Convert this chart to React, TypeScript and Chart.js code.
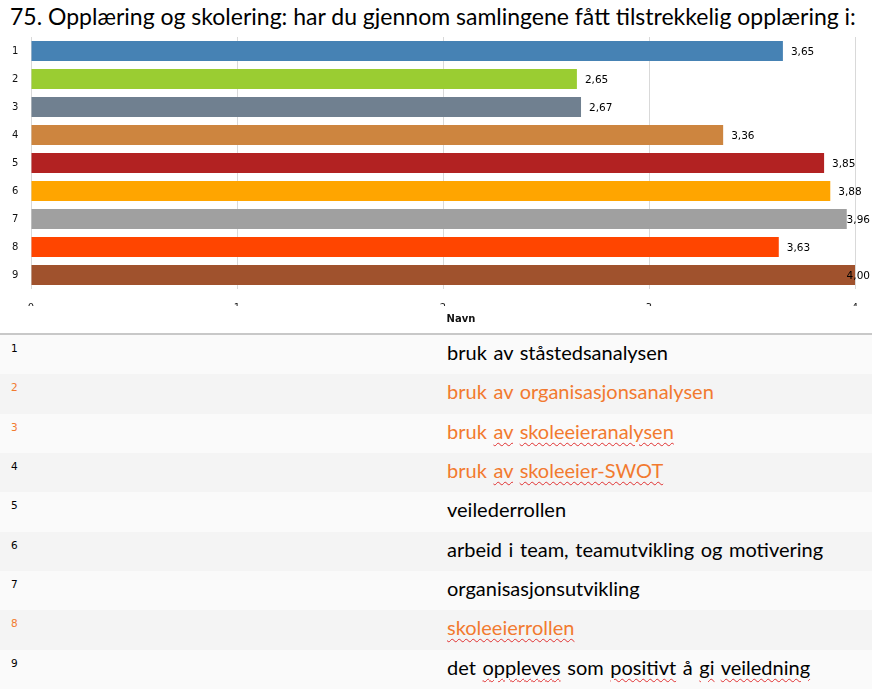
import React, { useEffect, useRef } from "react";
import { Chart, registerables } from "chart.js";

Chart.register(...registerables);

const titleText =
  "75. Opplæring og skolering: har du gjennom samlingene fått tilstrekkelig opplæring i:";
const categories = ["1", "2", "3", "4", "5", "6", "7", "8", "9"];
const values = [3.65, 2.65, 2.67, 3.36, 3.85, 3.88, 3.96, 3.63, 4.0];
const barColors = [
  "#4682b4",
  "#9acd32",
  "#708090",
  "#cd853f",
  "#b22222",
  "#ffa500",
  "#a0a0a0",
  "#ff4500",
  "#a0522d",
];
const xMin = 0;
const xMax = 4;
const axisTitle = "Navn";
const rowTexts = [
  "bruk av ståstedsanalysen",
  "bruk av organisasjonsanalysen",
  "bruk av skoleeieranalysen",
  "bruk av skoleeier-SWOT",
  "veilederrollen",
  "arbeid i team, teamutvikling og motivering",
  "organisasjonsutvikling",
  "skoleeierrollen",
  "det oppleves som positivt å gi veiledning",
];
const textOrange = [false, true, true, true, false, false, false, true, false];
const numberOrange = [false, true, true, false, false, false, false, true, false];
const misspelled = [
  [],
  [],
  ["av", "skoleeieranalysen"],
  ["av", "skoleeier-SWOT"],
  [],
  [],
  [],
  ["skoleeierrollen"],
  ["oppleves", "positivt", "gi", "veiledning"],
];

const ORANGE = "#f27a2f";

const formatValue = (v: number) => v.toFixed(2).replace(".", ",");

const valueLabels = {
  id: "valueLabels",
  afterDatasetsDraw(chart: any) {
    const ctx = chart.ctx;
    const meta = chart.getDatasetMeta(0);
    ctx.save();
    ctx.font = '10.5px "DejaVu Sans"';
    ctx.fillStyle = "#000";
    ctx.textBaseline = "middle";
    ctx.textAlign = "left";
    meta.data.forEach((bar: any, i: number) => {
      const txt = formatValue(values[i]);
      const w = ctx.measureText(txt).width;
      const x = Math.min(bar.x + 8, chart.chartArea.right + 15 - w);
      ctx.fillText(txt, x, bar.y + 1);
    });
    ctx.restore();
  },
};

const clipTicksAndTitle = {
  id: "clipTicksAndTitle",
  afterDraw(chart: any) {
    const ctx = chart.ctx;
    const area = chart.chartArea;
    ctx.save();
    ctx.fillStyle = "#ffffff";
    ctx.fillRect(0, 306, chart.width, 7);
    ctx.fillStyle = "#111";
    ctx.font = 'bold 10px "DejaVu Sans"';
    ctx.textAlign = "center";
    ctx.textBaseline = "middle";
    ctx.fillText(axisTitle, (area.left + area.right) / 2 + 18, 319);
    ctx.restore();
  },
};

function BarChart() {
  const ref = useRef<HTMLCanvasElement | null>(null);
  useEffect(() => {
    if (!ref.current) return;
    const chart = new Chart(ref.current, {
      type: "bar",
      data: {
        labels: categories,
        datasets: [
          {
            data: values,
            backgroundColor: barColors,
            borderWidth: 0,
            barPercentage: 0.72,
            categoryPercentage: 1,
          },
        ],
      },
      options: {
        indexAxis: "y",
        animation: false,
        responsive: false,
        maintainAspectRatio: false,
        layout: { padding: { top: 37, left: 12, right: 32, bottom: 0 } },
        plugins: {
          legend: { display: false },
          tooltip: { enabled: false },
          title: { display: false },
        },
        scales: {
          x: {
            min: xMin,
            max: xMax,
            afterFit(scale: any) {
              scale.height = 44;
            },
            ticks: {
              stepSize: 1,
              padding: 13,
              color: "#222",
              font: { family: "DejaVu Sans", size: 10 },
            },
            grid: { color: "#d9d9d9", drawTicks: false },
            border: { display: false },
          },
          y: {
            afterFit(scale: any) {
              scale.width = 19;
            },
            ticks: {
              crossAlign: "far",
              color: "#111",
              font: { family: "DejaVu Sans", size: 10 },
            },
            grid: { display: false },
            border: { display: false },
          },
        },
      } as any,
      plugins: [valueLabels, clipTicksAndTitle],
    });
    return () => chart.destroy();
  }, []);
  return (
    <canvas
      ref={ref}
      width={887}
      height={333}
      style={{ position: "absolute", left: 0, top: 0, width: 887, height: 333 }}
    />
  );
}

function RowText({ text, bad }: { text: string; bad: string[] }) {
  const words = text.split(" ");
  return (
    <>
      {words.map((w, i) => (
        <React.Fragment key={i}>
          {i > 0 ? " " : ""}
          <span
            style={
              bad.includes(w)
                ? {
                    textDecorationLine: "underline",
                    textDecorationStyle: "wavy",
                    textDecorationColor: "#e03030",
                    textDecorationThickness: "1px",
                    textUnderlineOffset: "3px",
                  }
                : undefined
            }
          >
            {w}
          </span>
        </React.Fragment>
      ))}
    </>
  );
}

export default function App() {
  const tableTop = 335;
  const rowH = 39.33;
  return (
    <div
      style={{
        position: "absolute",
        left: 0,
        top: 0,
        width: 887,
        height: 691,
        overflow: "hidden",
        background: "#fff",
      }}
    >
      <div
        style={{
          position: "absolute",
          left: 10,
          top: 2,
          fontFamily: "Lato",
          fontSize: 23,
          lineHeight: "28px",
          color: "#000",
          whiteSpace: "nowrap",
        }}
      >
        {titleText}
      </div>
      <BarChart />
      <div
        style={{
          position: "absolute",
          left: 0,
          top: 333,
          width: 872,
          height: 2,
          background: "#c8c8c8",
        }}
      />
      {rowTexts.map((t, i) => (
        <div
          key={i}
          style={{
            position: "absolute",
            left: 0,
            top: tableTop + i * rowH,
            width: 872,
            height: rowH,
            background: i % 2 === 0 ? "#fafafa" : "#f4f4f4",
          }}
        >
          <div
            style={{
              position: "absolute",
              left: 11,
              top: 7,
              fontFamily: "DejaVu Sans",
              fontSize: 10.5,
              lineHeight: "12px",
              color: numberOrange[i] ? ORANGE : "#000",
            }}
          >
            {categories[i]}
          </div>
          <div
            style={{
              position: "absolute",
              left: 447,
              top: 5,
              fontFamily: "Lato",
              fontSize: 20,
              lineHeight: "24px",
              wordSpacing: 1.5,
              color: textOrange[i] ? ORANGE : "#000",
              whiteSpace: "nowrap",
            }}
          >
            <RowText text={t} bad={misspelled[i]} />
          </div>
        </div>
      ))}
    </div>
  );
}
